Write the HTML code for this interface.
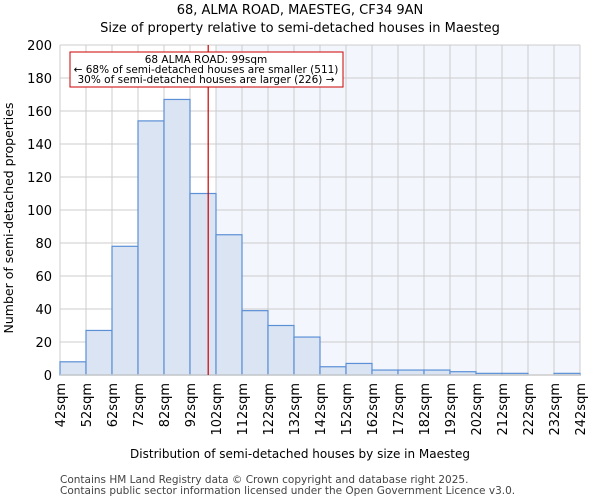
<!DOCTYPE html>
<html><head><meta charset="utf-8"><style>
body{margin:0;background:#fff;font-family:"DejaVu Sans","Liberation Sans",sans-serif;}
</style></head><body>
<svg id="chart" width="600" height="500" xmlns="http://www.w3.org/2000/svg" font-family="DejaVu Sans, Liberation Sans, sans-serif">
<text x="300" y="14" text-anchor="middle" font-size="13">68, ALMA ROAD, MAESTEG, CF34 9AN</text>
<text x="300" y="32" text-anchor="middle" font-size="13">Size of property relative to semi-detached houses in Maesteg</text>
<g id="plot"></g>
<text x="300" y="458" text-anchor="middle" font-size="12">Distribution of semi-detached houses by size in Maesteg</text>
<text transform="translate(13,218) rotate(-90)" text-anchor="middle" font-size="12.5">Number of semi-detached properties</text>
<text x="60" y="483" font-size="10.5" fill="#444">Contains HM Land Registry data © Crown copyright and database right 2025.</text>
<text x="60" y="494" font-size="10.5" fill="#444">Contains public sector information licensed under the Open Government Licence v3.0.</text>
</svg>
<script>
const binStarts=[42,52,62,72,82,92,102,112,122,132,142,152,162,172,182,192,202,212,222,232];
const counts=[8,27,78,154,167,110,85,39,30,23,5,7,3,3,3,2,1,1,0,1];
const yTicks=[0,20,40,60,80,100,120,140,160,180,200];
const xTickLabels=[42,52,62,72,82,92,102,112,122,132,142,152,162,172,182,192,202,212,222,232,242];
const subjectSize=99;
const shadeFrom=102;
const X0=60,X1=580,Y0=375,Y1=45,xMin=42,xMax=242,yMax=200;
const xs=v=>X0+(v-xMin)/(xMax-xMin)*(X1-X0);
const ys=v=>Y0-v/yMax*(Y0-Y1);
const NS="http://www.w3.org/2000/svg";
const g=document.getElementById('plot');
function mk(t,a){const e=document.createElementNS(NS,t);for(const k in a)e.setAttribute(k,a[k]);g.appendChild(e);return e;}
let e=mk('rect',{x:xs(shadeFrom),y:Y1,width:X1-xs(shadeFrom),height:Y0-Y1,fill:'#f3f6fd'});


xTickLabels.forEach(v=>{const l=mk('line',{x1:xs(v),x2:xs(v),y1:Y1,y2:Y0,stroke:'#cccccc','stroke-width':1});

});
yTicks.forEach(v=>{const l=mk('line',{x1:X0,x2:X1,y1:ys(v),y2:ys(v),stroke:'#cccccc','stroke-width':1});


const t=mk('text',{x:X0-8,y:ys(v)+5,'text-anchor':'end','font-size':13});t.textContent=v;

});
binStarts.forEach((b,i)=>{if(counts[i]<=0)return;const r=mk('rect',{x:xs(b),y:ys(counts[i]),width:xs(b+10)-xs(b),height:Y0-ys(counts[i]),fill:'#dae4f3',stroke:'#5b8fd6','stroke-width':1.2});

});
xTickLabels.forEach(v=>{const t=mk('text',{transform:`translate(${xs(v)+5},383) rotate(-90)`,'text-anchor':'end','font-size':13});t.textContent=v+'sqm';

});
e=mk('line',{x1:X0,x2:X1,y1:Y0,y2:Y0,stroke:'#cccccc','stroke-width':1.5});


e=mk('line',{x1:xs(subjectSize),x2:xs(subjectSize),y1:Y1,y2:Y0,stroke:'#cc0000','stroke-width':1.2});


e=mk('rect',{x:70,y:52,width:273,height:35,fill:'#fff',stroke:'#cc0000','stroke-width':1});


[['68 ALMA ROAD: 99sqm',63],['← 68% of semi-detached houses are smaller (511)',73],['30% of semi-detached houses are larger (226) →',83]].forEach(([s,y])=>{const t=mk('text',{x:206,y:y,'text-anchor':'middle','font-size':10.5});t.textContent=s;

});
</script>
</body></html>
